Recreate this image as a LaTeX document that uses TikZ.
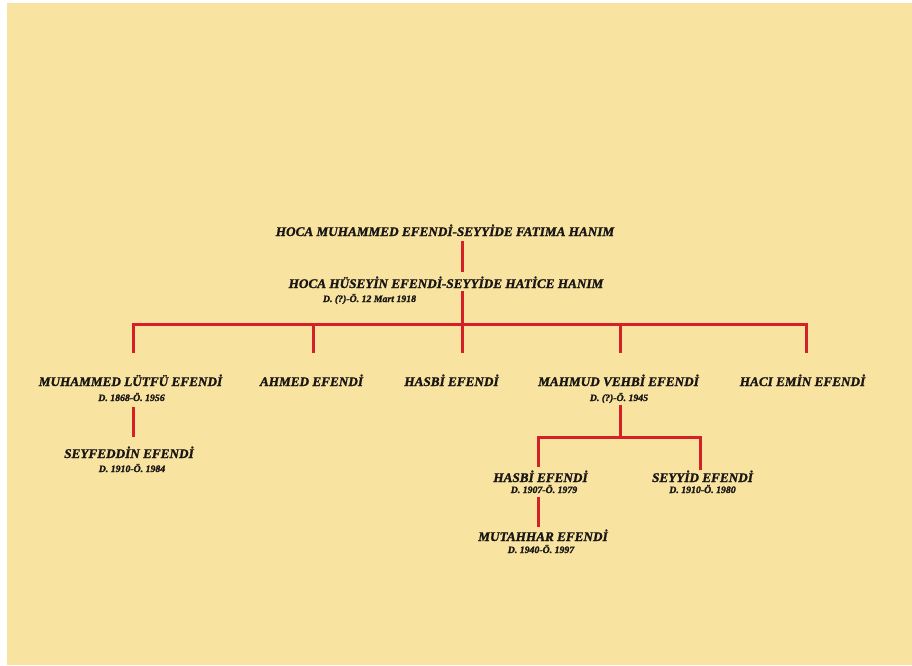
\documentclass[tikz,border=0pt]{standalone}
\usepackage{fontspec}
\setmainfont{Liberation Serif}[BoldItalicFeatures={FakeBold=1.5}]
\usetikzlibrary{calc}
\definecolor{bgbeige}{RGB}{248,228,160}
\definecolor{linered}{RGB}{212,32,39}
\definecolor{txtdark}{RGB}{25,22,20}
\begin{document}
\begin{tikzpicture}[x=1pt,y=-1pt,
  nm/.style={font=\fontsize{13.2}{15}\selectfont\bfseries\itshape, text=txtdark, inner sep=0pt, anchor=base},
  dt/.style={font=\fontsize{9.8}{11}\selectfont\bfseries\itshape, text=txtdark, inner sep=0pt, anchor=base},
  ln/.style={draw=linered, line width=3pt}]
\useasboundingbox (0,0) rectangle (912,665);
\fill[white] (0,0) rectangle (912,665);
\fill[bgbeige] (7,3) rectangle (912,665);
% people
\node[nm] (t1) at (445,236) {HOCA MUHAMMED EFENDİ-SEYYİDE FATIMA HANIM};
\node[nm] (t2) at (446,288) {HOCA HÜSEYİN EFENDİ-SEYYİDE HATİCE HANIM};
\node[dt] (td) at (369.5,302) {D. (?)-Ö. 12 Mart 1918};
\node[nm] (c1) at (130.5,386) {MUHAMMED LÜTFÜ EFENDİ};
\node[dt] (d1) at (131.5,401) {D. 1868-Ö. 1956};
\node[nm] (c2) at (311.5,386) {AHMED EFENDİ};
\node[nm] (c3) at (451.5,386) {HASBİ EFENDİ};
\node[nm] (c4) at (618.5,386) {MAHMUD VEHBİ EFENDİ};
\node[dt] (d4) at (619,401) {D. (?)-Ö. 1945};
\node[nm] (c5) at (802.5,386) {HACI EMİN EFENDİ};
\node[nm] (s1) at (129,458) {SEYFEDDİN EFENDİ};
\node[dt] (sd1) at (132,472) {D. 1910-Ö. 1984};
\node[nm] (g1) at (540.5,482) {HASBİ EFENDİ};
\node[dt] (gd1) at (544,493) {D. 1907-Ö. 1979};
\node[nm] (g2) at (702.5,482) {SEYYİD EFENDİ};
\node[dt] (gd2) at (702.5,493) {D. 1910-Ö. 1980};
\node[nm] (m1) at (543,541) {MUTAHHAR EFENDİ};
\node[dt] (md1) at (541,553) {D. 1940-Ö. 1997};
% line positions
\coordinate (xA) at (462,0);
\coordinate (x1) at (133,0);
\coordinate (x2) at (313,0);
\coordinate (x4) at (620,0);
\coordinate (x5) at (806,0);
\coordinate (xH) at (538,0);
\coordinate (xS) at (700,0);
\coordinate (y1) at (0,324);
\coordinate (y2) at (0,437);
% connectors
\draw[ln] ($(t1.base -| xA)+(0,5)$) -- ($(t2.base -| xA)+(0,-16)$);
\draw[ln] ($(t2.base -| xA)+(0,3)$) -- ($(c3.base -| xA)+(0,-33)$);
\draw[ln] ($(c1.base -| x1)+(0,-33)$) |- (y1 -| x5) -- ($(c5.base -| x5)+(0,-33)$);
\draw[ln] (y1 -| x2) -- ($(c2.base -| x2)+(0,-33)$);
\draw[ln] (y1 -| x4) -- ($(c4.base -| x4)+(0,-33)$);
\draw[ln] ($(d1.base -| x1)+(0,6)$) -- ($(s1.base -| x1)+(0,-21)$);
\draw[ln] ($(d4.base -| x4)+(0,4)$) -- (y2 -| x4);
\draw[ln] ($(g1.base -| xH)+(0,-15)$) |- (y2 -| xS) -- ($(g2.base -| xS)+(0,-12)$);
\draw[ln] ($(gd1.base -| xH)+(0,4)$) -- ($(m1.base -| xH)+(0,-14)$);
\end{tikzpicture}
\end{document}
